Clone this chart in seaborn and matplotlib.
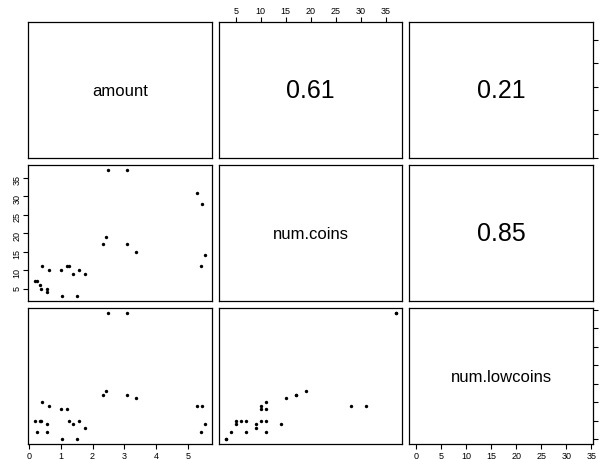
import numpy as np
import pandas as pd
import seaborn as sns
import matplotlib
matplotlib.use("Agg")
import matplotlib.pyplot as plt

# values
amount = [0.20, 0.26, 0.35, 0.40, 0.41, 0.57, 0.57, 0.63, 1.02, 1.05, 1.20, 1.26, 1.38,
          1.52, 1.57, 1.76, 2.34, 2.41, 2.48, 3.07, 3.09, 3.35, 5.27, 5.42, 5.53, 5.40]
num_coins = [7, 7, 6, 5, 11, 5, 4, 10, 10, 3, 11, 11, 9,
             3, 10, 9, 17, 19, 37, 37, 17, 15, 31, 28, 14, 11]
num_lowcoins = [5, 2, 5, 5, 10, 4, 2, 9, 8, 0, 8, 5, 4,
                0, 5, 3, 12, 13, 34, 34, 12, 11, 9, 9, 4, 2]

var_names = ["amount", "num.coins", "num.lowcoins"]
corr_text = ["0.61", "0.21", "0.85"]  # upper cells (1,2), (1,3), (2,3)
amount_ticks = [0, 1, 2, 3, 4, 5]
coin_ticks = [5, 10, 15, 20, 25, 30, 35]
lowcoin_ticks = [0, 5, 10, 15, 20, 25, 30, 35]

df = pd.DataFrame({"amount": amount, "num.coins": num_coins, "num.lowcoins": num_lowcoins})

sns.set_style("white")
plt.rcParams['font.family'] = ['Liberation Sans', 'DejaVu Sans']
plt.rcParams['text.color'] = 'black'
plt.rcParams['xtick.color'] = 'black'
plt.rcParams['ytick.color'] = 'black'

g = sns.PairGrid(df, vars=var_names, despine=False, height=1.5)
g.map_lower(sns.scatterplot, color="black", s=6, linewidth=0)

# diagonal: variable names
for i, name in enumerate(var_names):
    g.axes[i, i].text(0.5, 0.5, name, transform=g.axes[i, i].transAxes,
                      ha="center", va="center", fontsize=12, color="black")

# upper: correlations
for (i, j), txt in zip([(0, 1), (0, 2), (1, 2)], corr_text):
    g.axes[i, j].text(0.5, 0.5, txt, transform=g.axes[i, j].transAxes,
                      ha="center", va="center", fontsize=18, color="black")

# R style 4% padded ranges
for k, name in enumerate(var_names):
    lo, hi = df[name].min(), df[name].max()
    pad = 0.04 * (hi - lo)
    g.axes[0, k].set_xlim(lo - pad, hi + pad)
    g.axes[k, 0].set_ylim(lo - pad, hi + pad)

for ax in g.axes.flat:
    ax.set_xlabel("")
    ax.set_ylabel("")
    for sp in ax.spines.values():
        sp.set_color("black")
        sp.set_linewidth(0.9)
    ax.tick_params(which="both", bottom=False, top=False, left=False, right=False,
                   labelbottom=False, labeltop=False, labelleft=False, labelright=False,
                   direction="out", length=3.5, width=0.8, labelsize=6.5, pad=1.5,
                   color="black", labelcolor="black")

g.axes[2, 0].set_xticks(amount_ticks)
g.axes[0, 2].set_yticks(amount_ticks)
g.axes[0, 1].set_xticks(coin_ticks)
g.axes[1, 0].set_yticks(coin_ticks)
g.axes[2, 2].set_xticks(lowcoin_ticks)
g.axes[2, 2].set_yticks(lowcoin_ticks)

# right-hand axes: tick marks only, their labels fall outside the picture
g.axes[2, 0].tick_params(bottom=True, labelbottom=True)
g.axes[2, 2].tick_params(bottom=True, labelbottom=True, right=True)
g.axes[0, 1].tick_params(top=True, labeltop=True)
g.axes[0, 2].tick_params(right=True)
g.axes[1, 0].tick_params(left=True, labelleft=True)
g.axes[1, 0].tick_params(axis="y", labelrotation=90)

g.figure.set_size_inches(6, 4.6)
g.figure.subplots_adjust(left=28.3 / 600, right=593 / 600, top=1 - 23.3 / 460,
                         bottom=1 - 445 / 460, wspace=0.038, hspace=0.055)
plt.savefig("out.png", dpi=100)
